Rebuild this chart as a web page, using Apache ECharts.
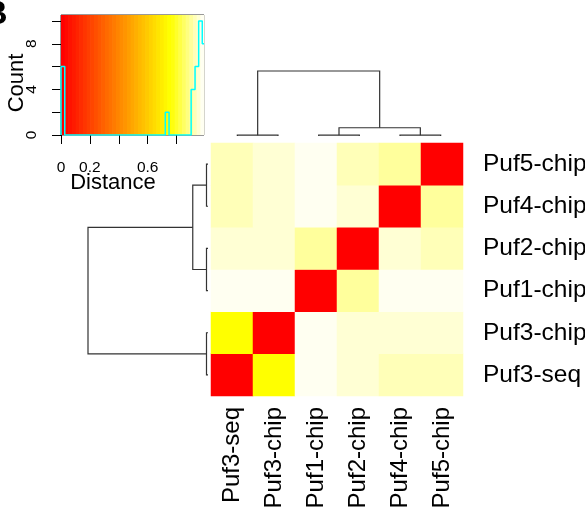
<!DOCTYPE html>
<html><head><meta charset="utf-8">
<script src="https://cdn.jsdelivr.net/npm/echarts@6/dist/echarts.min.js"></script>
<style>html,body{margin:0;padding:0;background:#fff}#c{width:585px;height:513px}</style>
</head><body><div id="c"></div>
<script>
// ---- data ----
// order: columns left->right, rows bottom->top
const labels = ['Puf3-seq', 'Puf3-chip', 'Puf1-chip', 'Puf2-chip', 'Puf4-chip', 'Puf5-chip'];
const distPuf3seq  = [0,     0.745, 0.98,  0.955, 0.93,  0.93];
const distPuf3chip = [0.745, 0,     0.98,  0.955, 0.955, 0.955];
const distPuf1     = [0.98,  0.98,  0,     0.905, 0.98,  0.98];
const distPuf2     = [0.955, 0.955, 0.905, 0,     0.955, 0.93];
const distPuf4     = [0.93,  0.955, 0.98,  0.955, 0,     0.905];
const distPuf5     = [0.93,  0.955, 0.98,  0.93,  0.905, 0];
const distRows = [distPuf3seq, distPuf3chip, distPuf1, distPuf2, distPuf4, distPuf5];

// hierarchical clustering merges (R style: negative = leaf position, positive = earlier merge), heights
const treeMerges = [[-1, -2, 0.0125], [-3, -4, 0.0125], [-5, -6, 0.0125], [2, 3, 0.127], [1, 4, 1.0]];

// colour key
const keyMax = 0.99;
const nColors = 39;
const keyXTicks = [0, 0.2, 0.4, 0.6, 0.8];
const keyXLabels = [0, 0.2, 0.6];
const keyYTicks = [0, 2, 4, 6, 8, 10];
const keyYLabels = [0, 4, 8];
// histogram (step edges and counts)
const histEdges = [0, 0.026, 0.722, 0.748, 0.901, 0.928, 0.953, 0.978, 0.99];
const histCounts = [6, 0, 2, 0, 4, 6, 10, 8];
const histMaxCount = 10;

// ---- helpers ----
function heatColors(n) {
  const j = Math.floor(n / 4), i = n - j, out = [];
  const hex = v => ('0' + Math.round(v).toString(16)).slice(-2);
  for (let k = 0; k < i; k++) out.push('#ff' + hex(255 * k / (i - 1)) + '00');
  for (let k = 0; k < j; k++) {
    const s = (1 - 1 / (2 * j)) - k * ((1 - 1 / j) / (j - 1));
    out.push('#ffff' + hex(255 * (1 - s)));
  }
  return out;
}
const palette = heatColors(nColors);
const breaks = [];
for (let k = 0; k <= nColors; k++) breaks.push(keyMax * k / nColors);
const pieces = palette.map((c, k) => k < nColors - 1 ? { gte: breaks[k], lt: breaks[k + 1], color: c } : { gte: breaks[k], lte: breaks[k + 1] + 1, color: c });
const keyRects = palette.map((c, k) => [breaks[k], breaks[k + 1], k]);

const heatData = [];
distRows.forEach((row, r) => row.forEach((v, c) => heatData.push([c, r, v])));

function buildDendro(merges) {
  const nodes = [], segs = [];
  merges.forEach(m => {
    const ch = [m[0], m[1]].map(c => c < 0 ? { x: -c, h: 0 } : nodes[c - 1]);
    segs.push([ch[0].x, ch[0].h, ch[1].x, ch[1].h, m[2]]);
    nodes.push({ x: (ch[0].x + ch[1].x) / 2, h: m[2] });
  });
  return segs;
}
const dendroSegs = buildDendro(treeMerges);

const histLine = [[histEdges[0], 0]];
histCounts.forEach((c, i) => histLine.push([histEdges[i], c]));
histLine.push([histEdges[histEdges.length - 1], histCounts[histCounts.length - 1]]);

const FONT = 'Liberation Sans';
const lineCol = '#333';

const chart = echarts.init(document.getElementById('c'), null, { renderer: 'canvas' });
chart.setOption({
  animation: false,
  backgroundColor: '#fff',
  grid: [
    { left: 61, top: 15, width: 143, height: 120, show: true, borderColor: '#333', borderWidth: 1, backgroundColor: 'transparent', outerBoundsMode: 'none', containLabel: false },
    { left: 211, top: 143, width: 252, height: 253, outerBoundsMode: 'none', containLabel: false },
    { left: 88, top: 143, width: 120, height: 253, outerBoundsMode: 'none', containLabel: false },
    { left: 217, top: 71, width: 244, height: 65, outerBoundsMode: 'none', containLabel: false }
  ],
  xAxis: [
    { gridIndex: 0, type: 'value', min: 0, max: keyMax, splitLine: { show: false },
      axisLine: { show: false },
      axisTick: { show: true, length: 9, customValues: keyXTicks, lineStyle: { color: '#000', width: 1 } },
      axisLabel: { show: true, customValues: keyXLabels, margin: 25, fontSize: 15.5, fontFamily: FONT, color: '#000', formatter: v => String(v) } },
    { gridIndex: 1, type: 'category', data: labels, position: 'bottom',
      axisLine: { show: false }, axisTick: { show: false },
      axisLabel: { rotate: 90, margin: 11, fontSize: 24, fontFamily: FONT, color: '#000', interval: 0 } },
    { gridIndex: 2, type: 'value', min: 0, max: 1, inverse: true, show: false },
    { gridIndex: 3, type: 'value', min: 0.5, max: 6.5, show: false }
  ],
  yAxis: [
    { gridIndex: 0, type: 'value', min: 0, max: histMaxCount / 0.95, splitLine: { show: false },
      axisLine: { show: false },
      axisTick: { show: true, length: 9, customValues: keyYTicks, lineStyle: { color: '#000', width: 1 } },
      axisLabel: { show: true, customValues: keyYLabels, rotate: 90, margin: 21, fontSize: 15.5, fontFamily: FONT, color: '#000' } },
    { gridIndex: 1, type: 'category', data: labels, position: 'right',
      axisLine: { show: false }, axisTick: { show: false },
      axisLabel: { margin: 20, fontSize: 24.5, fontFamily: FONT, color: '#000', interval: 0 } },
    { gridIndex: 2, type: 'value', min: 0.5, max: 6.5, show: false },
    { gridIndex: 3, type: 'value', min: 0, max: 1, show: false }
  ],
  visualMap: { type: 'piecewise', show: false, seriesIndex: 2, dimension: 2, pieces: pieces },
  series: [
    { type: 'custom', xAxisIndex: 0, yAxisIndex: 0, data: keyRects, silent: true,
      encode: { x: [0, 1] },
      renderItem: (params, api) => {
        const p0 = api.coord([api.value(0), histMaxCount / 0.95]);
        const p1 = api.coord([api.value(1), 0]);
        return { type: 'rect', shape: { x: p0[0], y: p0[1], width: p1[0] - p0[0] + 0.6, height: p1[1] - p0[1] }, style: { fill: palette[api.value(2)] } };
      }, z: 1 },
    { type: 'line', xAxisIndex: 0, yAxisIndex: 0, data: histLine, step: 'end', showSymbol: false, symbol: 'none',
      lineStyle: { color: '#00ffff', width: 1.5 }, silent: true, z: 3 },
    { type: 'heatmap', xAxisIndex: 1, yAxisIndex: 1, data: heatData, silent: true, emphasis: { disabled: true } },
    { type: 'custom', xAxisIndex: 2, yAxisIndex: 2, data: dendroSegs, silent: true,
      renderItem: (params, api) => {
        const xl = api.value(0), hl = api.value(1), xr = api.value(2), hr = api.value(3), h = api.value(4);
        const pts = [[hl, xl], [h, xl], [h, xr], [hr, xr]].map(p => api.coord(p));
        return { type: 'polyline', shape: { points: pts }, style: { stroke: lineCol, lineWidth: 1.2, fill: null } };
      } },
    { type: 'custom', xAxisIndex: 3, yAxisIndex: 3, data: dendroSegs, silent: true,
      renderItem: (params, api) => {
        const xl = api.value(0), hl = api.value(1), xr = api.value(2), hr = api.value(3), h = api.value(4);
        const pts = [[xl, hl], [xl, h], [xr, h], [xr, hr]].map(p => api.coord(p));
        return { type: 'polyline', shape: { points: pts }, style: { stroke: lineCol, lineWidth: 1.2, fill: null } };
      } }
  ],
  graphic: [
    { type: 'text', x: 113, y: 183, style: { text: 'Distance', fontSize: 22, fontFamily: FONT, fill: '#000', align: 'center', verticalAlign: 'middle' } },
    { type: 'text', x: 17, y: 83, rotation: Math.PI / 2, style: { text: 'Count', fontSize: 22, fontFamily: FONT, fill: '#000', align: 'center', verticalAlign: 'middle' } },
    { type: 'text', x: -17, y: 15, style: { text: 'B', fontSize: 34, fontWeight: 'bold', fontFamily: FONT, fill: '#000', align: 'left', verticalAlign: 'middle' } }
  ]
});
</script></body></html>
